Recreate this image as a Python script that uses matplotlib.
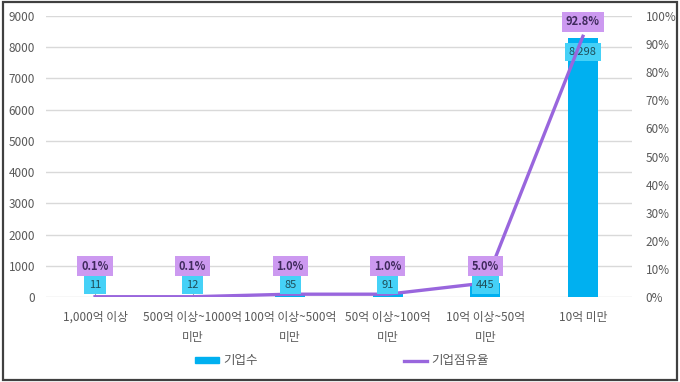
import numpy as np
import matplotlib.pyplot as plt
from matplotlib.patches import Rectangle
from matplotlib.ticker import FuncFormatter

plt.rcParams['font.family'] = ['Noto Sans CJK KR', 'DejaVu Sans']

categories = ['1,000억 이상', '500억 이상~1000억\n미만', '100억 이상~500억\n미만',
              '50억 이상~100억\n미만', '10억 이상~50억\n미만', '10억 미만']
counts = [11, 12, 85, 91, 445, 8298]
shares = [0.1, 0.1, 1.0, 1.0, 5.0, 92.8]

bar_color = '#00B0F0'
line_color = '#9966DD'
grid_color = '#D9D9D9'
tick_color = '#595959'

fig = plt.figure(figsize=(6.8, 3.82), dpi=100)
ax = fig.add_axes([0.068, 0.2225, 0.861, 0.7355])
ax2 = ax.twinx()

x = np.arange(len(categories))
ax.bar(x, counts, width=0.31, color=bar_color, zorder=2)
ax.set_ylim(0, 9000)
ax.set_yticks(range(0, 9001, 1000))
ax.set_xlim(-0.5, len(categories) - 0.5)
ax.set_xticks(x)
ax.set_xticklabels(categories, fontsize=8.5, color=tick_color, linespacing=1.75)
ax.yaxis.grid(True, color=grid_color, linewidth=1)
ax.set_axisbelow(True)

ax2.plot(x, shares, color=line_color, linewidth=2.4, zorder=3)
ax2.set_ylim(0, 100)
ax2.set_yticks(range(0, 101, 10))
ax2.yaxis.set_major_formatter(FuncFormatter(lambda v, p: f'{int(v)}%'))

for a in (ax, ax2):
    for s in a.spines.values():
        s.set_visible(False)
    a.tick_params(length=0, labelsize=8.5, colors=tick_color)
ax.tick_params(axis='x', pad=10)
ax.tick_params(axis='y', pad=8)
ax2.tick_params(axis='y', pad=10)

# data labels (drawn on ax2 so they sit above the line)
for i, (c, s) in enumerate(zip(counts, shares)):
    cy = c - 450 if c > 3000 else 384
    ax2.text(i, cy, f'{c:,}', transform=ax.transData, ha='center', va='center',
             fontsize=8, color='#1F4E5A',
             bbox=dict(boxstyle='square,pad=0.4', fc='#45D1F7', ec='none'),
             zorder=2.5 if c > 3000 else 5)
    if s > 50:
        sy = 97.9
    else:
        sy = 11
        ax2.plot([i, i], [s, sy], color='#A6A6A6', linewidth=0.8, zorder=2)
    ax2.text(i, sy, f'{s:.1f}%', ha='center', va='center', fontsize=8, color='#3F2A5C',
             fontweight='bold',
             bbox=dict(boxstyle='square,pad=0.35', fc='#CC99F0', ec='none'), zorder=5)

# legend
h1 = Rectangle((0, 0), 1, 1, color=bar_color)
h2 = plt.Line2D([0], [0], color=line_color, linewidth=2.4)
fig.legend([h1, h2], ['기업수', '기업점유율'], loc='center', bbox_to_anchor=(0.503, 0.055),
           ncol=2, frameon=False, fontsize=9, handlelength=1.85, handleheight=0.45,
           handletextpad=0.35, columnspacing=11.7, labelcolor=tick_color)

fig.patches.append(Rectangle((0.005, 0.006), 0.99, 0.988, transform=fig.transFigure,
                             fill=False, ec='#404040', lw=1.6))

fig.savefig('out.png', dpi=100)
